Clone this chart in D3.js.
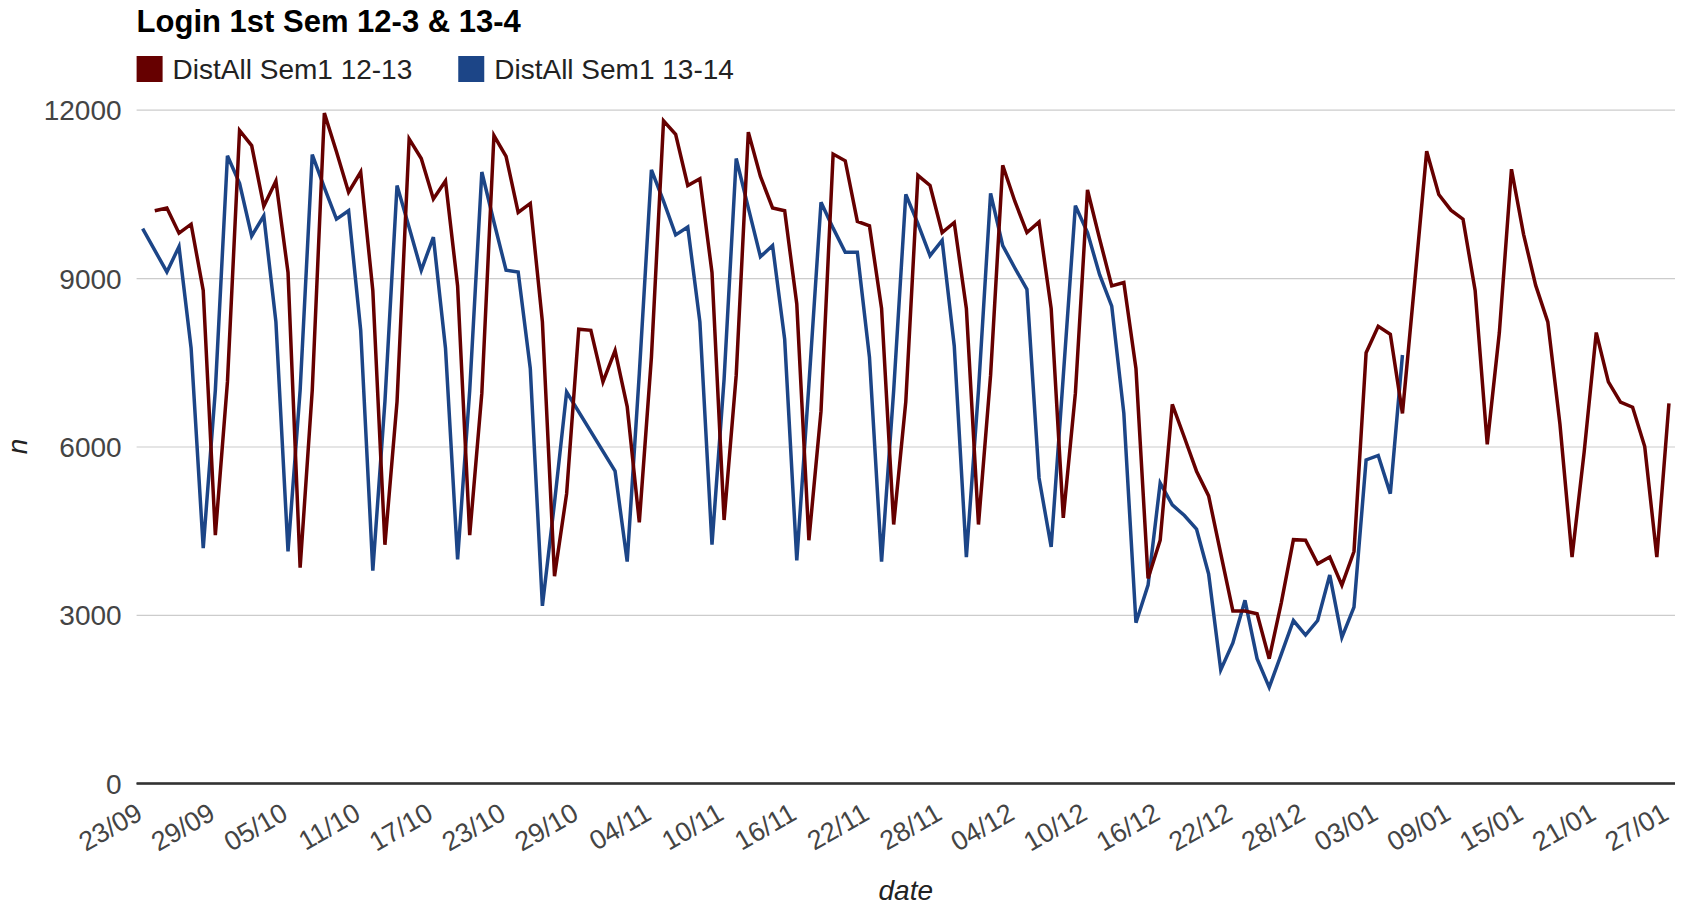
<!DOCTYPE html>
<html>
<head>
<meta charset="utf-8">
<script src="https://cdn.jsdelivr.net/npm/d3@7.9.0/dist/d3.min.js"></script>
<style>
  body { margin: 0; background: #fff; }
  svg { display: block; font-family: "Liberation Sans", Arial, sans-serif; }
</style>
</head>
<body>
<svg id="chart" width="1687" height="907"></svg>
<script>
/******************************************************
 * Data
 ******************************************************/
const chartTitle = "Login 1st Sem 12-3 & 13-4";
const seriesNames = ["DistAll Sem1 12-13", "DistAll Sem1 13-14"];
const seriesColors = ["#660000", "#1c4587"];

// one category per day, 23/09 .. 27/01
const days = d3.timeDay.range(new Date(2012, 8, 23), new Date(2013, 0, 28));
const fmtDay = d3.timeFormat("%d/%m");
const categories = days.map(fmtDay);

const tickLabels = ["23/09", "29/09", "05/10", "11/10", "17/10", "23/10", "29/10",
  "04/11", "10/11", "16/11", "22/11", "28/11", "04/12", "10/12", "16/12", "22/12",
  "28/12", "03/01", "09/01", "15/01", "21/01", "27/01"];
const yTicks = [0, 3000, 6000, 9000, 12000];

// Sem1 12-13 (red), one value per day, null = no data
const sem1213 = [
  null, 10200, 10250, 9800, 9960, 8780, 4420, 7150, 11630, 11360,
  10280, 10730, 9100, 3840, 7000, 11940, 11250, 10530, 10890, 8780,
  4250, 6800, 11480, 11130, 10410, 10730, 8860, 4420, 6950, 11540,
  11170, 10170, 10330, 8220, 3690, 5160, 8090, 8070, 7150, 7710,
  6710, 4650, 7590, 11800, 11560, 10650, 10770, 9100, 4690, 7270,
  11600, 10810, 10250, 10200, 8540, 4330, 6630, 11210, 11090, 10010,
  9930, 8460, 4610, 6800, 10830, 10650, 9810, 9990, 8460, 4610,
  7270, 11010, 10370, 9810, 10000, 8460, 4730, 6950, 10570, 9700,
  8860, 8920, 7390, 3650, 4330, 6750, 6160, 5560, 5120, 4090,
  3070, 3070, 3020, 2220, 3220, 4340, 4330, 3910, 4030, 3530,
  4130, 7670, 8140, 8000, 6590, 8900, 11260, 10490, 10210, 10050,
  8780, 6040, 8030, 10940, 9780, 8870, 8220, 6400, 4030, 5900,
  8030, 7150, 6790, 6700, 6000, 4030, 6770
];

// Sem1 13-14 (blue)
const sem1314 = [
  9880, null, 9110, 9560, 7750, 4190, 7000, 11180, 10690, 9750,
  10110, 8220, 4130, 7000, 11200, 10610, 10050, 10200, 8070, 3790,
  6800, 10650, 9900, 9140, 9730, 7750, 3990, 7000, 10890, 10000,
  9140, 9110, 7390, 3160, 5000, 6970, null, null, null, 5560,
  3950, 7300, 10930, 10370, 9770, 9910, 8220, 4250, 7200, 11130,
  10250, 9380, 9580, 7910, 3970, 7100, 10350, 9890, 9460, 9460,
  7590, 3950, 7000, 10490, 9970, 9400, 9670, 7790, 4030, 7000,
  10510, 9580, 9180, 8800, 5440, 4210, 7250, 10290, 9810, 9060,
  8500, 6590, 2860, 3530, 5350, 4960, 4770, 4530, 3730, 2020,
  2500, 3260, 2220, 1710, 2300, 2900, 2640, 2900, 3710, 2600,
  3140, 5760, 5840, 5160, 7630
];

/******************************************************
 * Layout
 ******************************************************/
const svg = d3.select("#chart");
const W = 1687, H = 907;
const plot = { left: 136.6, right: 1675, top: 109.7, bottom: 783.3 };

svg.append("rect").attr("width", W).attr("height", H).attr("fill", "#fff");

const x = d3.scalePoint()
  .domain(categories)
  .range([plot.left, plot.right])
  .padding(0.5);

const y = d3.scaleLinear()
  .domain([0, 12000])
  .range([plot.bottom, plot.top]);

// gridlines + y labels
const yAxis = svg.append("g")
  .attr("transform", `translate(${plot.left},0)`)
  .call(d3.axisLeft(y)
    .tickValues(yTicks)
    .tickFormat(d3.format("d"))
    .tickSize(-(plot.right - plot.left))
    .tickPadding(15));
yAxis.select(".domain").remove();
yAxis.selectAll(".tick line")
  .attr("stroke", d => d === 0 ? "#333" : "#cccccc")
  .attr("stroke-width", d => d === 0 ? 2 : 1.2);
yAxis.selectAll(".tick text")
  .attr("fill", "#444")
  .style("font-size", "28px")
  .attr("dy", "0.36em");

/******************************************************
 * Lines
 ******************************************************/
const lineGen = d3.line()
  .x(d => x(d.cat))
  .y(d => y(d.v));

const series = [sem1213, sem1314].map((vals, i) => ({
  name: seriesNames[i],
  color: seriesColors[i],
  points: vals.map((v, j) => ({ cat: categories[j], v }))
              .filter(d => d.v !== null && d.v !== undefined)
}));

svg.append("g")
  .selectAll("path.series")
  .data(series.slice().reverse())
  .enter()
  .append("path")
  .attr("class", "series")
  .attr("fill", "none")
  .attr("stroke", d => d.color)
  .attr("stroke-width", 3.5)
  .attr("d", d => lineGen(d.points));

// redraw baseline on top
svg.append("line")
  .attr("x1", plot.left).attr("x2", plot.right)
  .attr("y1", y(0)).attr("y2", y(0))
  .attr("stroke", "#333").attr("stroke-width", 2);

/******************************************************
 * X axis labels
 ******************************************************/
const xAxis = svg.append("g")
  .attr("transform", `translate(0,${plot.bottom})`)
  .call(d3.axisBottom(x).tickValues(tickLabels).tickSize(0));
xAxis.select(".domain").remove();
xAxis.selectAll(".tick text")
  .attr("fill", "#444")
  .style("font-size", "27px")
  .style("text-anchor", "end")
  .attr("y", 0)
  .attr("dy", 0)
  .attr("transform", "translate(1,35) rotate(-30)");

/******************************************************
 * Titles & legend
 ******************************************************/
svg.append("text")
  .attr("x", plot.left).attr("y", 31.5)
  .attr("fill", "#000")
  .style("font-size", "31px")
  .style("font-weight", "bold")
  .text(chartTitle);

svg.append("text")
  .attr("transform", `translate(27,${(plot.top + plot.bottom) / 2}) rotate(-90)`)
  .attr("text-anchor", "middle")
  .attr("fill", "#222")
  .style("font-size", "28px")
  .style("font-style", "italic")
  .text("n");

svg.append("text")
  .attr("x", (plot.left + plot.right) / 2).attr("y", 900)
  .attr("text-anchor", "middle")
  .attr("fill", "#222")
  .style("font-size", "28px")
  .style("font-style", "italic")
  .text("date");

const legend = svg.append("g");
let lx = plot.left;
series.forEach(s => {
  legend.append("rect")
    .attr("x", lx).attr("y", 56)
    .attr("width", 26).attr("height", 26)
    .attr("fill", s.color);
  const t = legend.append("text")
    .attr("x", lx + 36).attr("y", 78.5)
    .attr("fill", "#222")
    .style("font-size", "28px")
    .text(s.name);
  lx = lx + 36 + t.node().getComputedTextLength() + 46;
});
</script>
</body>
</html>
